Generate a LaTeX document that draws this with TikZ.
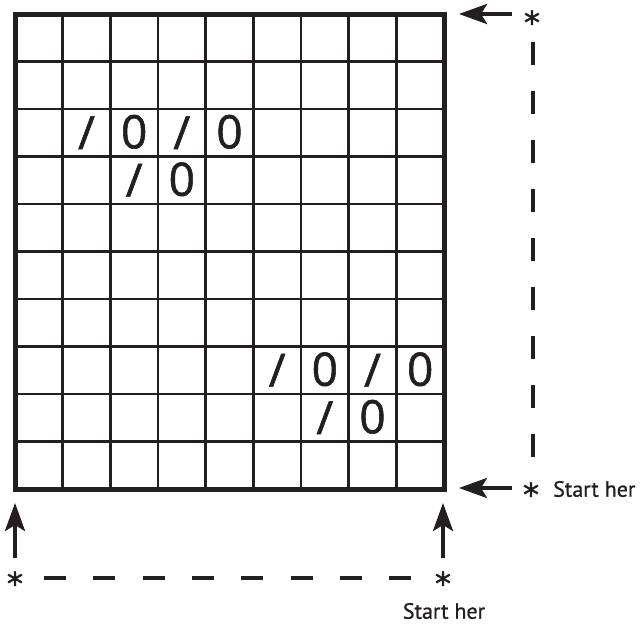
\documentclass[tikz,border=0pt]{standalone}
\usepackage{fontspec}
\setmainfont[FakeBold=0.8]{PT Sans}
\newfontfamily\symfont[FakeBold=1.2]{Open Sans}
\newfontfamily\starfont[FakeBold=1.5]{DejaVu Sans}
\usetikzlibrary{arrows.meta}
\definecolor{ink}{HTML}{231F20}
\begin{document}
\begin{tikzpicture}[x=1pt,y=-1pt,
  gridline/.style={ink,line width=2.6pt},
  frame/.style={ink,line width=5pt},
  sym/.style={ink,font=\symfont\fontsize{46}{46}\selectfont,inner sep=0pt},
  star/.style={ink,font=\starfont\fontsize{32}{32}\selectfont,inner sep=0pt,anchor=base},
  lbl/.style={ink,font=\fontsize{22}{22}\selectfont,inner sep=0pt},
  arr/.style={ink,line width=3.8pt,-{Stealth[length=28pt,width=20pt,inset=6pt]}},
  dashline/.style={ink,line width=3.8pt}]
\useasboundingbox[fill=white] (0,0) rectangle (641,624);
\def\cw{47.667}\def\rh{47.5}
\foreach \i in {1,...,8} \draw[gridline] ({15+\i*\cw},14) -- ({15+\i*\cw},489);
\foreach \j in {1,...,9} \draw[gridline] (15,{14+\j*\rh}) -- (444,{14+\j*\rh});
\draw[frame] (15,14) rectangle (444,489);
% symbols
\foreach \c/\r/\n in {1/2/a1,3/2/a2,2/3/a3,5/7/b1,7/7/b2,6/8/b3}
  \node[sym] (sl\n) at ({15+(\c+0.5)*\cw},{14+(\r+0.5)*\rh}) {/};
\foreach \c/\r/\n in {2/2/a1,4/2/a2,3/3/a3,6/7/b1,8/7/b2,7/8/b3}
  \node[sym,anchor=base] (ze\n) at ({15+(\c+0.5)*\cw},{14+(\r+0.5)*\rh+15.5}) {0};
% stars and labels
\node[star] (s1) at (532,34) {*};
\node[star] (s2) at (531,506) {*};
\node[star] (s3) at (15,595) {*};
\node[star] (s4) at (443,595) {*};
\node[lbl,anchor=west] (t1) at (553,489) {Start her};
\node[lbl] (t2) at (444,611) {Start her};
% arrows
\coordinate (a1s) at (512,14); \coordinate (a1e) at (459,14);
\coordinate (a2s) at (512,488); \coordinate (a2e) at (459,488);
\coordinate (a3s) at (15,558); \coordinate (a3e) at (15,503);
\coordinate (a4s) at (443,558); \coordinate (a4e) at (443,503);
\draw[arr] (a1s) -- (a1e);
\draw[arr] (a2s) -- (a2e);
\draw[arr] (a3s) -- (a3e);
\draw[arr] (a4s) -- (a4e);
% dashed paths
\coordinate (d1) at (533,42); \coordinate (d2) at (533,457);
\draw[dashline,dash pattern=on 23pt off 26pt] (d1) -- (d2);
\coordinate (h1) at (44,578); \coordinate (h2) at (413,578);
\draw[dashline,dash pattern=on 22pt off 27.3pt] (h1) -- (h2);
\end{tikzpicture}
\end{document}
